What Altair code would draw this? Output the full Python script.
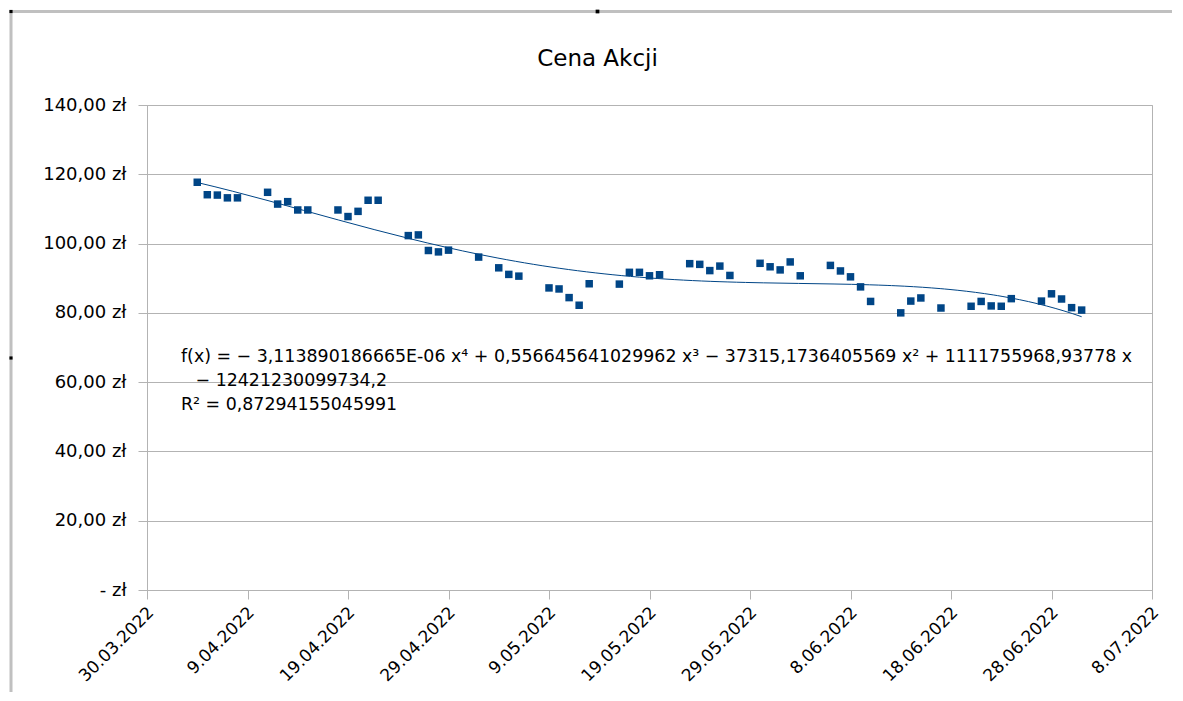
import altair as alt
import pandas as pd

# ---- data ----
dates = [
    "2022-04-04", "2022-04-05", "2022-04-06", "2022-04-07", "2022-04-08",
    "2022-04-11", "2022-04-12", "2022-04-13", "2022-04-14", "2022-04-15",
    "2022-04-18", "2022-04-19", "2022-04-20", "2022-04-21", "2022-04-22",
    "2022-04-25", "2022-04-26", "2022-04-27", "2022-04-28", "2022-04-29",
    "2022-05-02", "2022-05-04", "2022-05-05", "2022-05-06",
    "2022-05-09", "2022-05-10", "2022-05-11", "2022-05-12", "2022-05-13",
    "2022-05-16", "2022-05-17", "2022-05-18", "2022-05-19", "2022-05-20",
    "2022-05-23", "2022-05-24", "2022-05-25", "2022-05-26", "2022-05-27",
    "2022-05-30", "2022-05-31", "2022-06-01", "2022-06-02", "2022-06-03",
    "2022-06-06", "2022-06-07", "2022-06-08", "2022-06-09", "2022-06-10",
    "2022-06-13", "2022-06-14", "2022-06-15", "2022-06-17",
    "2022-06-20", "2022-06-21", "2022-06-22", "2022-06-23", "2022-06-24",
    "2022-06-27", "2022-06-28", "2022-06-29", "2022-06-30", "2022-07-01",
]
prices = [
    117.7, 114.1, 114.0, 113.2, 113.2,
    114.8, 111.4, 112.1, 109.7, 109.7,
    109.7, 107.8, 109.3, 112.5, 112.5,
    102.3, 102.5, 98.0, 97.6, 98.1,
    96.1, 93.0, 91.1, 90.6,
    87.2, 86.9, 84.4, 82.2, 88.4,
    88.3, 91.7, 91.7, 90.7, 91.0,
    94.2, 94.0, 92.2, 93.5, 90.8,
    94.3, 93.3, 92.4, 94.7, 90.7,
    93.7, 92.1, 90.4, 87.5, 83.3,
    80.0, 83.4, 84.3, 81.4,
    81.9, 83.3, 82.0, 81.9, 84.1,
    83.4, 85.5, 84.0, 81.5, 80.8,
]
start_date = "2022-03-30"

x_ticks = [0, 10, 20, 30, 40, 50, 60, 70, 80, 90, 100]
x_labels = ["30.03.2022", "9.04.2022", "19.04.2022", "29.04.2022", "9.05.2022",
            "19.05.2022", "29.05.2022", "8.06.2022", "18.06.2022", "28.06.2022",
            "8.07.2022"]
y_ticks = [0, 20, 40, 60, 80, 100, 120, 140]
y_labels = ["- zł", "20,00 zł", "40,00 zł", "60,00 zł", "80,00 zł",
            "100,00 zł", "120,00 zł", "140,00 zł"]

title_text = "Cena Akcji"
equation_lines = [
    "f(x) = \u2212 3,113890186665E-06 x\u2074 + 0,556645641029962 x\u00b3 \u2212 37315,1736405569 x\u00b2 + 1111755968,93778 x",
    "\u200b\u00a0\u00a0\u2009\u2212 12421230099734,2",
    "R\u00b2 = 0,87294155045991",
]

# ---- build table ----
df = pd.DataFrame({"date": pd.to_datetime(dates), "price": prices})
df["day"] = (df["date"] - pd.Timestamp(start_date)).dt.days
df = df[["day", "price"]]

FONT = "DejaVu Sans"
BLUE = "#004586"
GRID = "#b3b3b3"
FRAME = "#c0c0c0"

x_expr = "[" + ",".join(f"'{s}'" for s in x_labels) + f"][round(datum.value/{x_ticks[1]})]"
y_expr = "[" + ",".join(f"'{s}'" for s in y_labels) + f"][round(datum.value/{y_ticks[1]})]"

x_enc = alt.X(
    "day:Q",
    scale=alt.Scale(domain=[x_ticks[0], x_ticks[-1]], nice=False, zero=False),
    axis=alt.Axis(
        values=x_ticks, labelExpr=x_expr, title=None, grid=False,
        labelAngle=-45, labelAlign="right", labelBaseline="top",
        labelFont=FONT, labelFontSize=17, labelColor="black",
        labelPadding=5, labelOffset=-2, labelOverlap=False, labelFlush=False,
        labelBound=False,
        tickSize=9, tickColor=GRID, domainColor=GRID,
    ),
)
y_enc = alt.Y(
    "price:Q",
    scale=alt.Scale(domain=[y_ticks[0], y_ticks[-1]], nice=False),
    axis=alt.Axis(
        values=y_ticks, labelExpr=y_expr, title=None, grid=True,
        gridColor=GRID, labelFont=FONT, labelFontSize=18, labelColor="black",
        labelPadding=12, tickSize=9, tickColor=GRID, domainColor=GRID,
    ),
)

one = pd.DataFrame({"k": [0]})

base = alt.Chart(df)
points = base.mark_square(size=56, color=BLUE, opacity=1).encode(x=x_enc, y=y_enc)
trend = base.transform_regression(
    "day", "price", method="poly", order=4
).mark_line(color=BLUE, strokeWidth=1).encode(x="day:Q", y="price:Q")

eq = alt.Chart(one).mark_text(
    text=equation_lines, align="left", baseline="middle", font=FONT,
    fontSize=17.4, lineHeight=24, color="black",
).encode(x=alt.value(34), y=alt.value(252))

title = alt.Chart(one).mark_text(
    text=title_text, align="center", baseline="alphabetic", font=FONT,
    fontSize=23, color="black",
).encode(x=alt.value(450.5), y=alt.value(-39))

frame_left = alt.Chart(one).mark_rule(color=FRAME, strokeWidth=3).encode(
    x=alt.value(-136), y=alt.value(-94.5), y2=alt.value(600))
frame_top = alt.Chart(one).mark_rule(color=FRAME, strokeWidth=3).encode(
    x=alt.value(-137.5), x2=alt.value(1025), y=alt.value(-93.5))
handle_top = alt.Chart(one).mark_square(color="black", size=14, opacity=1).encode(
    x=alt.value(450.5), y=alt.value(-93.5))
handle_left = alt.Chart(one).mark_square(color="black", size=10, opacity=1).encode(
    x=alt.value(-136), y=alt.value(253))
handle_corner = alt.Chart(one).mark_square(color="black", size=10, opacity=1).encode(
    x=alt.value(-136), y=alt.value(-93.5))

chart = alt.layer(
    frame_left, frame_top, handle_top, handle_left, handle_corner,
    trend, points, eq, title,
).properties(
    width=1005, height=485,
    autosize=alt.AutoSizeParams(type="none"),
    padding={"left": 139, "top": 97, "right": 20, "bottom": 102},
).configure_view(stroke=GRID, strokeWidth=1)

chart.save("out.html", embed_options={"renderer": "svg", "actions": False})
